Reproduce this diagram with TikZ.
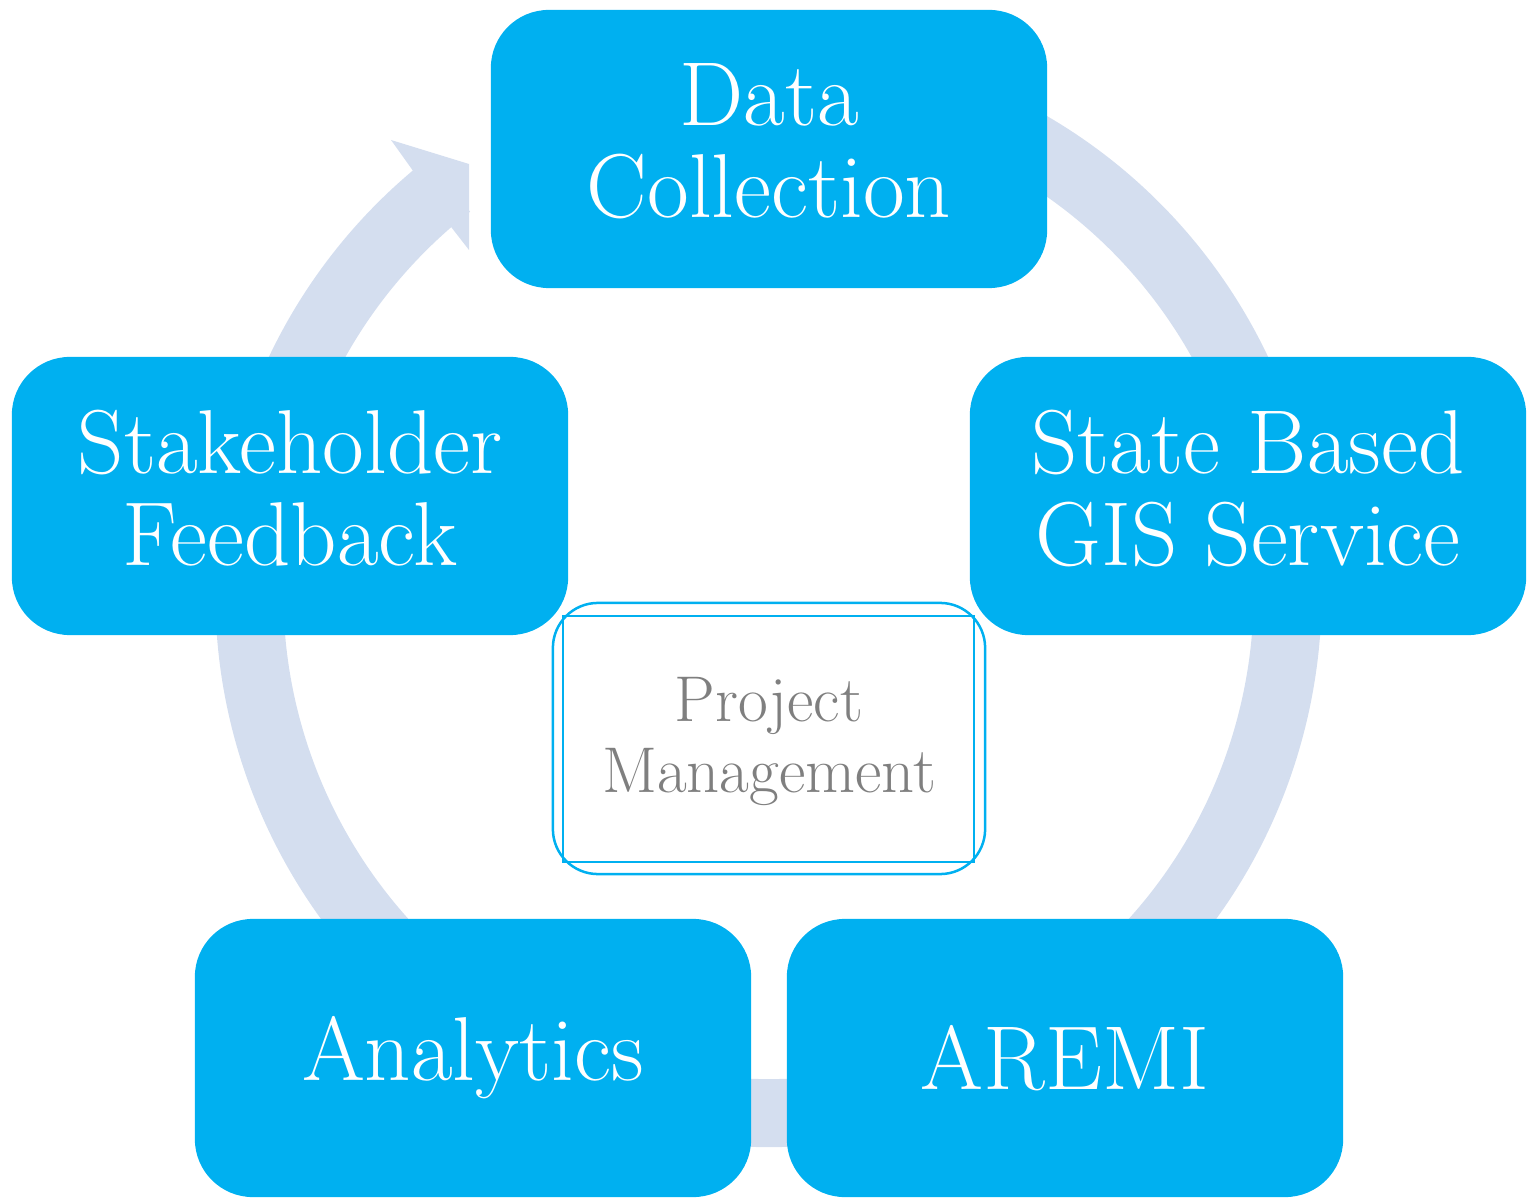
\documentclass[tikz,border=0pt]{standalone}
\usepackage{fontspec}
\definecolor{boxblue}{HTML}{00B0F0}
\definecolor{ringblue}{HTML}{D4DEEF}
\definecolor{pmgray}{HTML}{7F7F7F}
\begin{document}
\begin{tikzpicture}[x=0.01cm,y=-0.01cm,
  cbox/.style={fill=boxblue, draw=none, rounded corners=0.58cm,
    minimum width=5.56cm, minimum height=2.78cm, text=white, align=center,
    font=\fontsize{25.8}{26.2}\selectfont, inner sep=0pt},
  twoline/.style={text depth=0.17cm},
  pmbox/.style={draw=boxblue, line width=0.025cm, rounded corners=0.45cm,
    minimum width=4.32cm, minimum height=2.71cm, inner sep=0pt},
  pmlabel/.style={text=pmgray, align=center,
    font=\fontsize{18.4}{20.2}\selectfont, inner sep=0pt}]
\useasboundingbox (0,0) rectangle (1528,1198);
% ring
\draw[ringblue, line width=0.68cm] (768.5,594) ++(-75:519) arc[start angle=-75, end angle=232, radius=519];
\fill[ringblue] (411,168) -- (391,140) -- (469,164) -- (469,250) -- (448,223) -- cycle;
% boxes
\node[cbox, twoline] (dc) at (769,149) {Data\\Collection};
\node[cbox, twoline] (sb) at (1248,496) {State Based\\GIS Service};
\node[cbox] (ar) at (1065,1058) {AREMI};
\node[cbox] (an) at (473,1058) {Analytics};
\node[cbox, twoline] (sf) at (290,496) {Stakeholder\\Feedback};
% centre
\node[pmbox] (pm) at (769,738.5) {};
\draw[boxblue, line width=0.02cm] ([shift={(11,14)}]pm.north west) rectangle ([shift={(-12,-13)}]pm.south east);
\node[pmlabel] (pmtext) at ([shift={(0,3)}]pm.center) {Project\\Management};
\end{tikzpicture}
\end{document}
